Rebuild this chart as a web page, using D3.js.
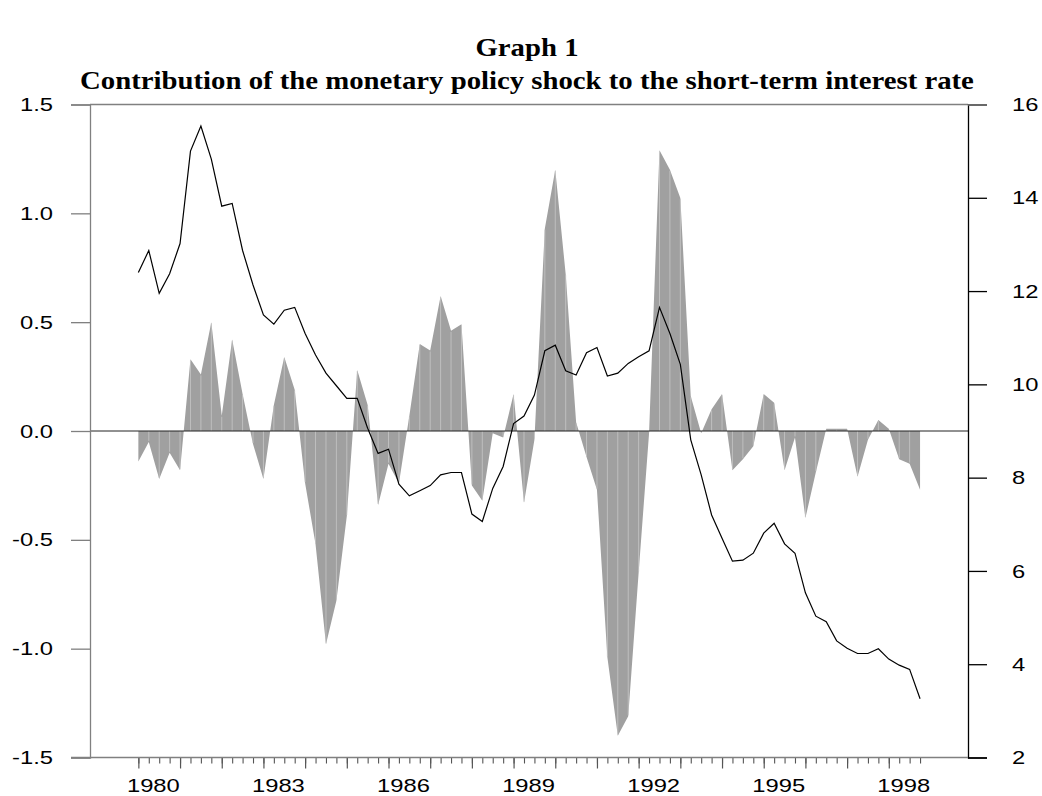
<!DOCTYPE html>
<html>
<head>
<meta charset="utf-8">
<script src="https://cdn.jsdelivr.net/npm/d3@7"></script>
<style>
  body { margin: 0; background: #fff; }
  svg { display: block; }
</style>
</head>
<body>
<div id="wrapper"></div>
<script>
// quarterly data, 1980Q1 .. 1998Q4
const startYear = 1980
const titleLines = ["Graph 1", "Contribution of the monetary policy shock to the short-term interest rate"]

// contribution of the shock (left axis, grey area)
const shock = [-0.14, -0.05, -0.22, -0.10, -0.18, 0.33, 0.26, 0.50, 0.07, 0.42,
               0.17, -0.06, -0.22, 0.12, 0.34, 0.19, -0.24, -0.52, -0.98, -0.78,
               -0.39, 0.28, 0.12, -0.34, -0.15, -0.24, 0.07, 0.40, 0.37, 0.62,
               0.46, 0.49, -0.25, -0.32, -0.01, -0.03, 0.17, -0.33, -0.04, 0.93,
               1.20, 0.72, 0.04, -0.12, -0.27, -1.04, -1.40, -1.31, -0.65, -0.01,
               1.29, 1.20, 1.07, 0.16, -0.01, 0.10, 0.17, -0.18, -0.13, -0.07,
               0.17, 0.13, -0.18, -0.03, -0.40, -0.19, 0.01, 0.01, 0.01, -0.21,
               -0.04, 0.05, 0.01, -0.13, -0.15, -0.27]

// short-term interest rate (right axis, black line)
const rate = [12.40, 12.87, 11.95, 12.37, 13.02, 15.00, 15.54, 14.83, 13.82, 13.88,
              12.87, 12.13, 11.49, 11.29, 11.59, 11.65, 11.09, 10.63, 10.24, 9.97,
              9.70, 9.70, 9.06, 8.52, 8.61, 7.86, 7.61, 7.72, 7.83, 8.06,
              8.11, 8.11, 7.22, 7.06, 7.77, 8.24, 9.16, 9.32, 9.77, 10.72,
              10.84, 10.29, 10.20, 10.68, 10.79, 10.18, 10.24, 10.45, 10.59, 10.72,
              11.65, 11.09, 10.43, 8.81, 8.06, 7.20, 6.70, 6.21, 6.23, 6.38,
              6.81, 7.02, 6.58, 6.38, 5.53, 5.03, 4.91, 4.50, 4.34, 4.23,
              4.23, 4.33, 4.11, 3.98, 3.89, 3.26]

const leftTicks = [-1.5, -1.0, -0.5, 0.0, 0.5, 1.0, 1.5]
const rightTicks = [2, 4, 6, 8, 10, 12, 14, 16]
const yearLabels = [1980, 1983, 1986, 1989, 1992, 1995, 1998]

const W = 1042, H = 796
const plot = {left: 90, right: 968, top: 104.5, bottom: 757.5}
const sansFont = "Liberation Sans, Arial, sans-serif"
const stretch = 1.25   // the glyphs of the original are wider than Arial

const svg = d3.select("#wrapper").append("svg")
    .attr("width", W).attr("height", H)

// widen a text selection horizontally, keeping its anchor
function widen(sel, k) {
    sel.each(function() {
        const w = this.getComputedTextLength()
        d3.select(this).attr("textLength", w * k).attr("lengthAdjust", "spacingAndGlyphs")
    })
}

const data = shock.map((s, i) => ({t: startYear + i / 4, s: s, r: rate[i]}))

const x = d3.scaleLinear().domain([1978.84, 1999.9]).range([plot.left, plot.right])
const yL = d3.scaleLinear().domain([-1.5, 1.5]).range([plot.bottom, plot.top])
const yR = d3.scaleLinear().domain([2, 16]).range([plot.bottom, plot.top])

// title
svg.selectAll(".title")
    .data(titleLines)
    .enter().append("text")
    .attr("class", "title")
    .attr("x", 527)
    .attr("y", (d, i) => i == 0 ? 56 : 89)
    .attr("text-anchor", "middle")
    .attr("font-family", "Liberation Serif, Times New Roman, serif")
    .attr("font-weight", "bold")
    .attr("font-size", 25)
    .text(d => d)
widen(svg.selectAll(".title"), 1.15)

// grey area
const area = d3.area()
    .x(d => x(d.t))
    .y0(yL(0))
    .y1(d => yL(d.s))
svg.append("path")
    .datum(data)
    .attr("d", area)
    .attr("fill", "#a0a0a0")

// light seams at each quarter
svg.selectAll(".seam")
    .data(data.slice(1, -1))
    .enter().append("line")
    .attr("x1", d => x(d.t)).attr("x2", d => x(d.t))
    .attr("y1", yL(0))
    .attr("y2", d => yL(d.s) + (d.s > 0 ? 1 : -1))
    .attr("stroke", "#c6c6c6")
    .attr("stroke-width", 0.8)

// zero line
svg.append("line")
    .attr("x1", plot.left).attr("x2", plot.right)
    .attr("y1", yL(0)).attr("y2", yL(0))
    .attr("stroke", "#222").attr("stroke-width", 1)

// interest rate line
const line = d3.line().x(d => x(d.t)).y(d => yR(d.r))
svg.append("path")
    .datum(data)
    .attr("d", line)
    .attr("fill", "none")
    .attr("stroke", "#000")
    .attr("stroke-width", 1.2)

// frame: top and left grey, right black
svg.append("line")
    .attr("x1", plot.left).attr("x2", plot.right)
    .attr("y1", plot.top).attr("y2", plot.top)
    .attr("stroke", "#808080").attr("stroke-width", 1.3)

// left axis
const leftAxis = svg.append("g")
    .attr("transform", `translate(${plot.left},0)`)
    .call(d3.axisLeft(yL).tickValues(leftTicks).tickSize(19).tickPadding(18)
        .tickFormat(d => d.toFixed(1)))
leftAxis.select(".domain").attr("stroke", "#808080").attr("stroke-width", 1.3)
leftAxis.selectAll(".tick line").attr("stroke", "#808080").attr("stroke-width", 1.3)
leftAxis.selectAll(".tick text")
    .attr("font-family", sansFont)
    .attr("font-size", 19).attr("fill", "#000")
widen(leftAxis.selectAll(".tick text"), stretch)

// right axis
const rightAxis = svg.append("g")
    .attr("transform", `translate(${plot.right},0)`)
    .call(d3.axisRight(yR).tickValues(rightTicks).tickSize(19).tickPadding(25)
        .tickFormat(d3.format("d")))
rightAxis.select(".domain").attr("stroke", "#000").attr("stroke-width", 1.3)
rightAxis.selectAll(".tick line").attr("stroke", (d) => d == 16 ? "#808080" : "#000").attr("stroke-width", 1.3)
rightAxis.selectAll(".tick text")
    .attr("font-family", sansFont)
    .attr("font-size", 19).attr("fill", "#000")
widen(rightAxis.selectAll(".tick text"), stretch)

// bottom axis: quarterly minor ticks, yearly major ticks
const quarterTicks = data.map(d => d.t)
const yearTicks = d3.range(startYear, startYear + rate.length / 4)
const minorAxis = svg.append("g")
    .attr("transform", `translate(0,${plot.bottom})`)
    .call(d3.axisBottom(x).tickValues(quarterTicks).tickSize(6).tickFormat(""))
minorAxis.select(".domain").remove()
minorAxis.selectAll(".tick line").attr("stroke", "#555").attr("stroke-width", 1.1)

const majorAxis = svg.append("g")
    .attr("transform", `translate(0,${plot.bottom})`)
    .call(d3.axisBottom(x).tickValues(yearTicks).tickSize(11).tickFormat(""))
majorAxis.select(".domain").remove()
majorAxis.selectAll(".tick line").attr("stroke", "#555").attr("stroke-width", 1.2)

svg.append("line")
    .attr("x1", plot.left - 19).attr("x2", plot.right)
    .attr("y1", plot.bottom).attr("y2", plot.bottom)
    .attr("stroke", "#808080").attr("stroke-width", 1.3)

svg.selectAll(".yearlabel")
    .data(yearLabels)
    .enter().append("text")
    .attr("class", "yearlabel")
    .attr("x", d => x(d) + 15)
    .attr("y", 792)
    .attr("text-anchor", "middle")
    .attr("font-family", sansFont)
    .attr("font-size", 19)
    .text(d => d)
widen(svg.selectAll(".yearlabel"), stretch)
</script>
</body>
</html>
